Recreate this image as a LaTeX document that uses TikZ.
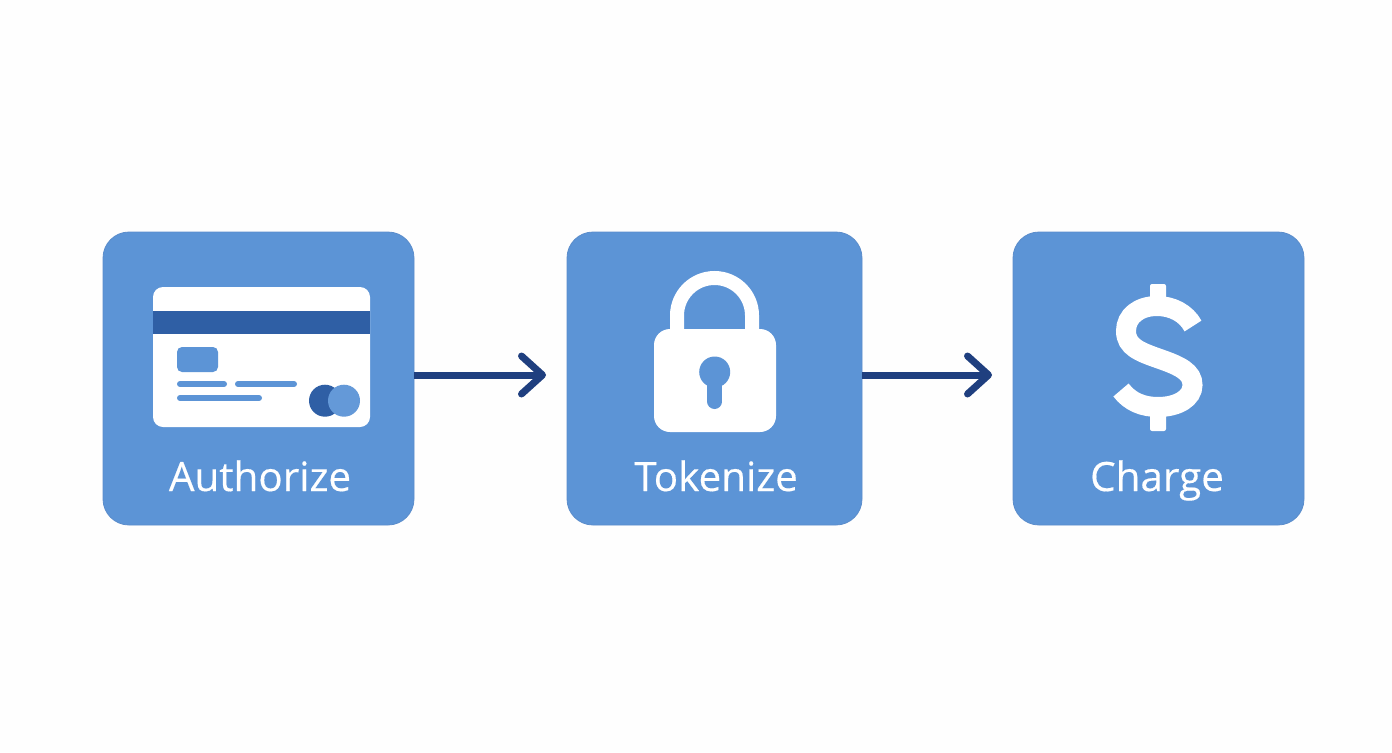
\documentclass[tikz,border=0pt]{standalone}
\usepackage{fontspec}
\setmainfont{Open Sans}[FakeBold=0.35]
\usetikzlibrary{arrows.meta}
\definecolor{boxblue}{HTML}{5C94D6}
\definecolor{boxedge}{HTML}{5A8CCB}
\definecolor{stripeblue}{HTML}{2F5FA5}
\definecolor{edgeblue}{HTML}{1F3F7F}
\definecolor{paper}{HTML}{FEFEFE}
\tikzset{
    box/.style = {draw=boxedge, fill=boxblue, rounded corners=13pt, inner sep=0pt, minimum height=146.5pt},
    label/.style = {anchor=base, text=white, font=\fontsize{20.2}{22}\selectfont},
    edge/.style = {edgeblue, line width=3.5pt, -{Straight Barb[length=10.5pt, width=19pt, round]}},
    icon/.style = {fill=white, draw=none},
    stroke/.style = {draw=white, line width=7pt},
}
\begin{document}
\begin{tikzpicture}[x=0.5pt, y=0.5pt]
            \fill[paper] (0,0) rectangle (1392,752);
            \useasboundingbox (0,0) rectangle (1392,752);

            % Boxes with manual coordinates
            \node[box, minimum width=155.5pt] (authorize) at (258.5,373.5) {};
            \node[box, minimum width=147.5pt] (tokenize) at (714.5,373.5) {};
            \node[box, minimum width=145.5pt] (charge) at (1158.5,373.5) {};

            % Labels
            \node[label] (authorizetext) at (260,261) {Authorize};
            \node[label] (tokenizetext) at (716,261) {Tokenize};
            \node[label] (chargetext) at (1157,261) {Charge};

            % Card
            \fill[icon, rounded corners=5pt] (153,325) rectangle (370,465);
            \fill[stripeblue] (153,418) rectangle (370,441.3);
            \fill[boxblue, rounded corners=2.5pt] (177,380) rectangle (218,405);
            \draw[boxblue, line width=3pt, line cap=round] (180,368) -- (224,368);
            \draw[boxblue, line width=3pt, line cap=round] (238,368) -- (294,368);
            \draw[boxblue, line width=3pt, line cap=round] (180,354) -- (259,354);
            \fill[stripeblue] (325,351.3) circle[radius=16];
            \fill[boxblue!95!white] (344,351.3) circle[radius=16];

            % Lock
            \draw[stroke] (677,415) -- (677,436.5) arc[start angle=180, end angle=0, radius=37.5] -- (752,415);
            \fill[icon, rounded corners=8pt] (654,320) rectangle (776,423);
            \fill[boxblue] (714.7,380) circle[radius=15.5];
            \draw[boxblue, line width=7.5pt, line cap=round] (714.7,380) -- (714.7,350.5);

            % Dollar
            \draw[draw=white, line width=10pt] (1193,426) .. controls (1186,439) and (1172,446) .. (1157,446)
                .. controls (1139,446) and (1126,436) .. (1126,421)
                .. controls (1126,405) and (1140,400) .. (1160,393)
                .. controls (1180,386) and (1192.5,380) .. (1192.5,367)
                .. controls (1192.5,354) and (1178,345) .. (1158,345)
                .. controls (1143,345) and (1130,350) .. (1121,362);
            \fill[icon, rounded corners=1pt] (1150,445) rectangle (1166,468);
            \fill[icon, rounded corners=1pt] (1150,321) rectangle (1166,345);

            % Edges
            \coordinate (tipa) at (546,377);
            \coordinate (tipb) at (992,377);
            \draw[edge] (authorize.east |- tipa) -- (tipa);
            \draw[edge] (tokenize.east |- tipb) -- (tipb);
        \end{tikzpicture}
\end{document}
